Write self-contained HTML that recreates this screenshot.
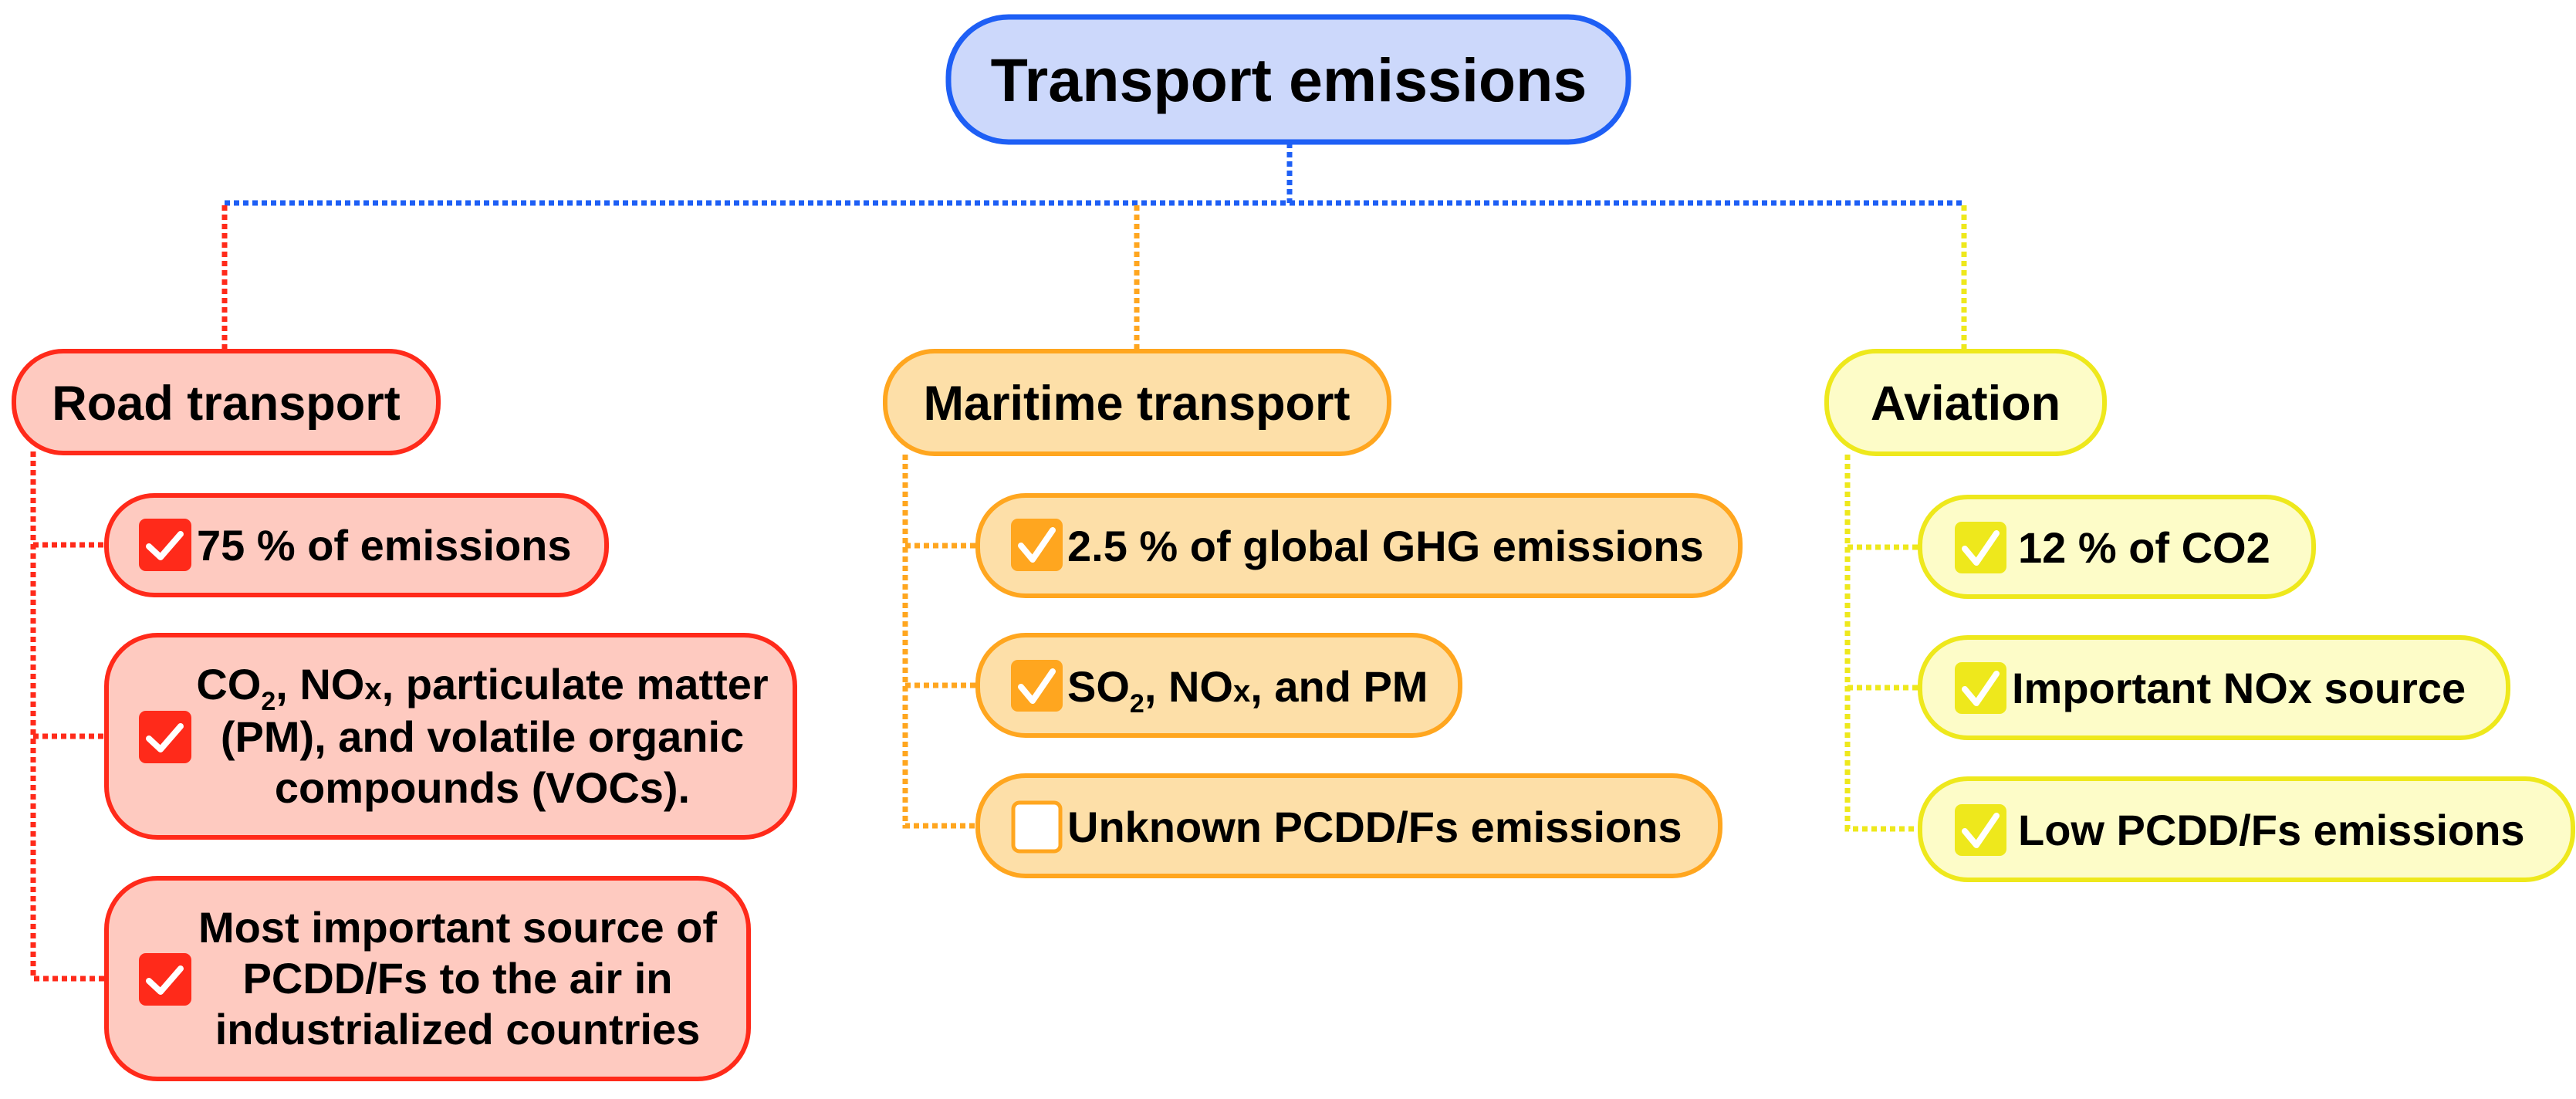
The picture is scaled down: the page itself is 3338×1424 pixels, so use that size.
<!DOCTYPE html>
<html><head><meta charset="utf-8"><style>
html,body{margin:0;padding:0;background:#fff;}
svg{display:block;}
text{font-family:"Liberation Sans",Arial,sans-serif;font-weight:bold;fill:#000;}
</style></head><body>
<svg width="3338" height="1424" viewBox="0 0 3338 1424" xmlns="http://www.w3.org/2000/svg">
<g fill="none" stroke-width="7" stroke-dasharray="7 5">
  <line x1="1671" y1="185" x2="1671" y2="263" stroke="#1e5ff5"/>
  <line x1="291" y1="263" x2="2545" y2="263" stroke="#1e5ff5"/>
  <line x1="291" y1="266" x2="291" y2="455" stroke="#ff2a1a"/>
  <line x1="1473" y1="266" x2="1473" y2="455" stroke="#ffa61f"/>
  <line x1="2545" y1="266" x2="2545" y2="455" stroke="#eee81c"/>
  <!-- road -->
  <polyline points="43,585 43,1268 136,1268" stroke="#ff2a1a"/>
  <line x1="43" y1="706" x2="136" y2="706" stroke="#ff2a1a"/>
  <line x1="43" y1="954" x2="136" y2="954" stroke="#ff2a1a"/>
  <!-- maritime -->
  <polyline points="1173,589 1173,1070 1267,1070" stroke="#ffa61f"/>
  <line x1="1173" y1="707" x2="1267" y2="707" stroke="#ffa61f"/>
  <line x1="1173" y1="888" x2="1267" y2="888" stroke="#ffa61f"/>
  <!-- aviation -->
  <polyline points="2394,589 2394,1074 2488,1074" stroke="#eee81c"/>
  <line x1="2394" y1="709" x2="2488" y2="709" stroke="#eee81c"/>
  <line x1="2394" y1="891" x2="2488" y2="891" stroke="#eee81c"/>
</g>

<!-- title -->
<rect x="1229" y="22" width="881" height="162" rx="78" fill="#ccd8fb" stroke="#1e5ff5" stroke-width="7"/>
<text x="1670" y="131" font-size="79" text-anchor="middle">Transport emissions</text>

<!-- category boxes -->
<rect x="18" y="455" width="550" height="132" rx="64" fill="#fecac0" stroke="#ff2a1a" stroke-width="6"/>
<text x="293" y="544" font-size="63" text-anchor="middle">Road transport</text>
<rect x="1147" y="455" width="653" height="133" rx="64" fill="#fddfa8" stroke="#ffa61f" stroke-width="6"/>
<text x="1473" y="544" font-size="63" text-anchor="middle">Maritime transport</text>
<rect x="2367" y="455" width="360" height="133" rx="64" fill="#fdfcc8" stroke="#eee81c" stroke-width="6"/>
<text x="2547" y="544" font-size="63" text-anchor="middle">Aviation</text>

<g stroke-width="6">
<rect x="138" y="642" width="648" height="129" rx="62" fill="#fecac0" stroke="#ff2a1a"/>
<rect x="138" y="823" width="892" height="262" rx="66" fill="#fecac0" stroke="#ff2a1a"/>
<rect x="138" y="1138" width="832" height="260" rx="66" fill="#fecac0" stroke="#ff2a1a"/>

<rect x="1267" y="642" width="988" height="130" rx="62" fill="#fddfa8" stroke="#ffa61f"/>
<rect x="1267" y="823" width="625" height="130" rx="62" fill="#fddfa8" stroke="#ffa61f"/>
<rect x="1267" y="1005" width="962" height="130" rx="62" fill="#fddfa8" stroke="#ffa61f"/>

<rect x="2488" y="644" width="510" height="129" rx="62" fill="#fdfcc8" stroke="#eee81c"/>
<rect x="2488" y="826" width="762" height="130" rx="62" fill="#fdfcc8" stroke="#eee81c"/>
<rect x="2488" y="1009" width="846" height="131" rx="62" fill="#fdfcc8" stroke="#eee81c"/>
</g>

<!-- checkboxes -->
<g>
<rect x="180" y="672" width="68" height="68" rx="9" fill="#ff2a1a"/>
<rect x="180" y="921" width="68" height="68" rx="9" fill="#ff2a1a"/>
<rect x="180" y="1235" width="68" height="68" rx="9" fill="#ff2a1a"/>
<rect x="1310" y="672" width="67" height="68" rx="9" fill="#ffa61f"/>
<rect x="1310" y="855" width="67" height="67" rx="9" fill="#ffa61f"/>
<rect x="1313" y="1040" width="61" height="63" rx="8" fill="#fff" stroke="#ffa61f" stroke-width="5"/>
<rect x="2533" y="676" width="67" height="67" rx="9" fill="#eee81c"/>
<rect x="2533" y="858" width="67" height="67" rx="9" fill="#eee81c"/>
<rect x="2533" y="1042" width="67" height="67" rx="9" fill="#eee81c"/>
</g>
<g fill="none" stroke="#fff" stroke-width="8" stroke-linecap="round" stroke-linejoin="round">
<polyline points="193,708 208,722 234,692"/>
<polyline points="193,957 208,971 234,941"/>
<polyline points="193,1271 208,1285 234,1255"/>
<polyline points="1323,707 1338,725 1364,687"/>
<polyline points="1323,890 1338,908 1364,870"/>
<polyline points="2546,711 2561,729 2587,691"/>
<polyline points="2546,893 2561,911 2587,873"/>
<polyline points="2546,1077 2561,1095 2587,1057"/>
</g>

<!-- texts -->
<text x="255" y="726" font-size="56">75 % of emissions</text>
<text x="625" y="906" font-size="56" text-anchor="middle">CO<tspan font-size="34" dy="14">2</tspan><tspan dy="-14">, NO</tspan><tspan font-size="40">x</tspan>, particulate matter</text>
<text x="625" y="974" font-size="56" text-anchor="middle">(PM), and volatile organic</text>
<text x="625" y="1040" font-size="56" text-anchor="middle">compounds (VOCs).</text>
<text x="593" y="1221" font-size="56" text-anchor="middle">Most important source of</text>
<text x="593" y="1287" font-size="56" text-anchor="middle">PCDD/Fs to the air in</text>
<text x="593" y="1353" font-size="56" text-anchor="middle">industrialized countries</text>

<text x="1383" y="727" font-size="56">2.5 % of global GHG emissions</text>
<text x="1383" y="909" font-size="56">SO<tspan font-size="34" dy="14">2</tspan><tspan dy="-14">, NO</tspan><tspan font-size="40">x</tspan>, and PM</text>
<text x="1383" y="1091" font-size="56">Unknown PCDD/Fs emissions</text>

<text x="2615" y="729" font-size="56">12 % of CO2</text>
<text x="2607" y="911" font-size="56">Important NOx source</text>
<text x="2615" y="1095" font-size="56">Low PCDD/Fs emissions</text>
</svg>
</body></html>
